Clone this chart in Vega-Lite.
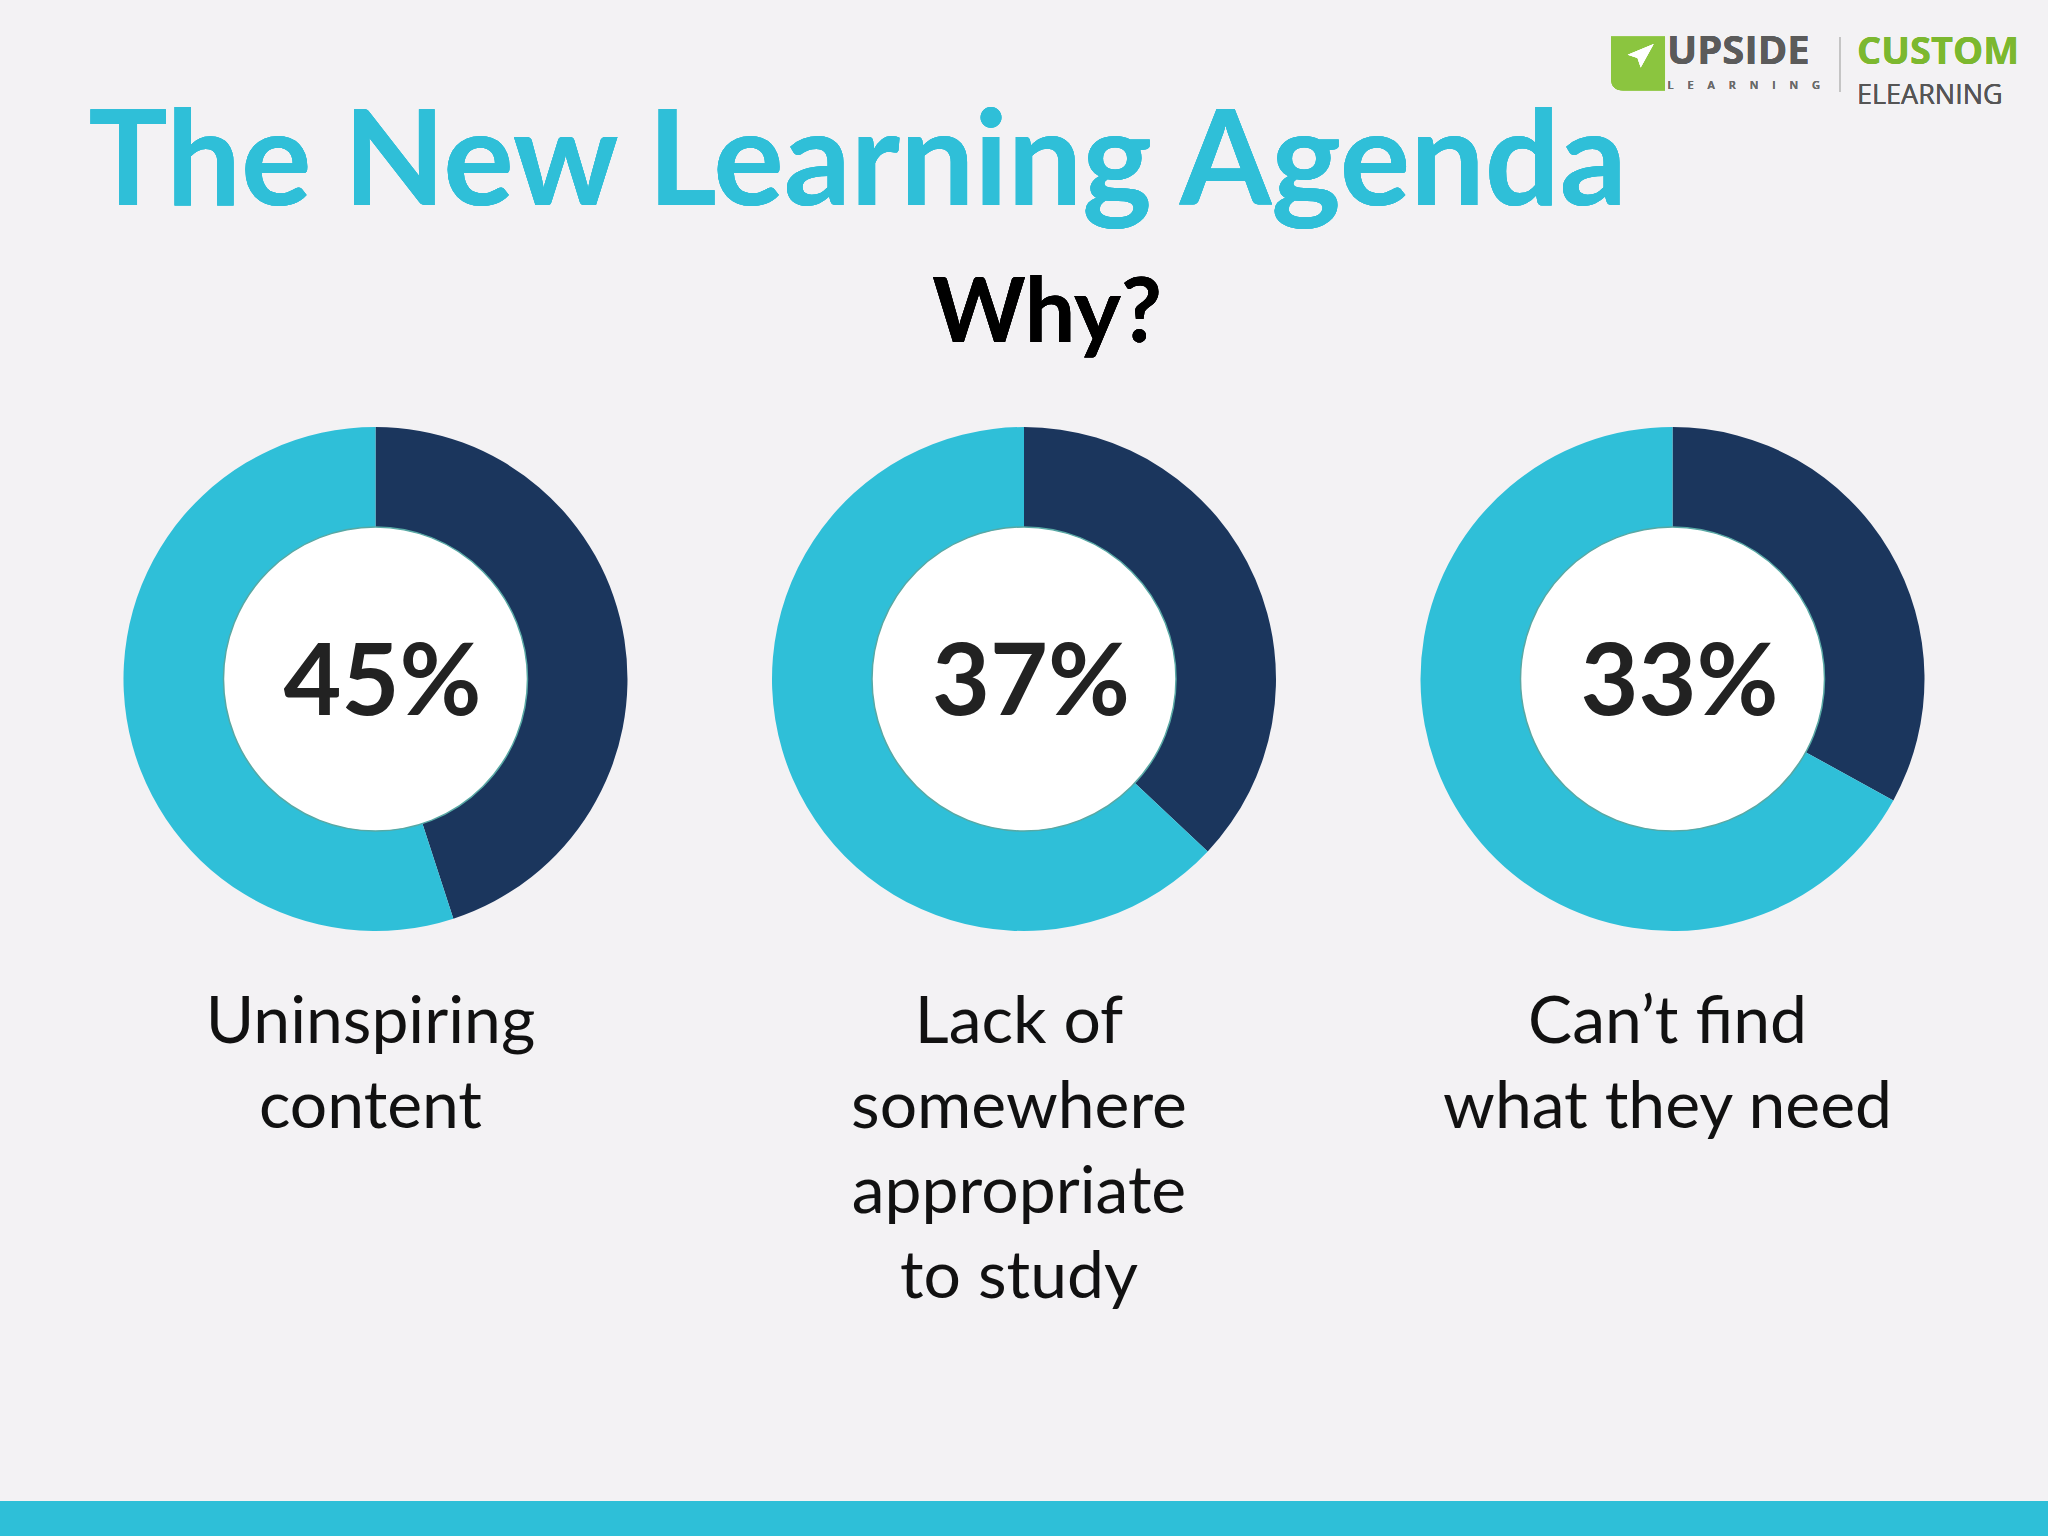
{
  "$schema": "https://vega.github.io/schema/vega-lite/v6.json",
  "autosize": {"type": "fit", "contains": "padding"},
  "width": 2048,
  "height": 1536,
  "padding": {"left": 0, "right": 0, "top": 0, "bottom": 35},
  "background": "#2ebfd8",
  "config": {"view": {"stroke": null, "fill": "#f3f2f4"}},
  "data": {"values": [
    {"reason": "Uninspiring content", "share": 0.45, "rest": 0.55, "lines": ["Uninspiring", "content"]},
    {"reason": "Lack of somewhere appropriate to study", "share": 0.37, "rest": 0.63, "lines": ["Lack of", "somewhere", "appropriate", "to study"]},
    {"reason": "Can’t find what they need", "share": 0.33, "rest": 0.67, "lines": ["Can’t find", "what they need"]}
  ]},
  "encoding": {
    "x": {"field": "reason", "type": "nominal", "axis": null,
      "scale": {"type": "point", "padding": 0.579, "domain": ["Uninspiring content", "Lack of somewhere appropriate to study", "Can’t find what they need"]}}
  },
  "layer": [
    {
      "transform": [
        {"fold": ["share", "rest"], "as": ["segment", "value"]},
        {"stack": "value", "groupby": ["reason"], "sort": [{"field": "segment", "order": "descending"}], "as": ["t0", "t1"]}
      ],
      "mark": {"type": "arc", "outerRadius": 252, "innerRadius": 140, "yOffset": -71.5},
      "encoding": {
        "theta": {"field": "t0", "type": "quantitative", "scale": {"domain": [0, 1]}},
        "theta2": {"field": "t1"},
        "color": {"field": "segment", "type": "nominal", "legend": null,
          "scale": {"domain": ["share", "rest"], "range": ["#1b365d", "#2fbfd8"]}}
      }
    },
    {
      "mark": {"type": "point", "shape": "circle", "filled": true, "fill": "#ffffff", "opacity": 1, "size": 92416, "stroke": "#58a8a4", "strokeWidth": 1.5, "yOffset": -71.5}
    },
    {
      "mark": {"type": "text", "font": "Lato", "fontWeight": "bold", "fontSize": 100, "color": "#222222", "baseline": "alphabetic", "align": "center", "dy": -35.5, "dx": 7},
      "encoding": {"text": {"field": "share", "type": "quantitative", "format": ".0%"}}
    },
    {
      "mark": {"type": "text", "font": "Lato", "fontSize": 66, "color": "#111111", "baseline": "alphabetic", "align": "center", "dy": 292.5, "dx": -5, "lineHeight": 85},
      "encoding": {"text": {"field": "lines"}}
    },
    {
      "mark": {"type": "text", "font": "Lato", "fontWeight": "bold", "fontSize": 132, "color": "#2fbfd8", "baseline": "alphabetic", "align": "left", "dx": -287, "dy": -545.5, "text": "The New Learning Agenda"},
      "encoding": {"x": {"datum": "Uninspiring content", "type": "nominal"}}
    },
    {
      "mark": {"type": "text", "font": "Lato", "fontWeight": "bold", "fontSize": 89, "color": "#000000", "baseline": "alphabetic", "align": "center", "dx": 23, "dy": -408.5, "text": "Why?"},
      "encoding": {"x": {"datum": "Lack of somewhere appropriate to study", "type": "nominal"}}
    },
    {
      "mark": {"type": "point", "filled": true, "fill": "#8bc53f", "opacity": 1, "strokeWidth": 0, "size": 2916, "xOffset": -34.5, "yOffset": -687,
        "shape": "M -1 -1 L 1 -1 L 1 1 L -0.55 1 Q -1 1 -1 0.55 Z"},
      "encoding": {"x": {"datum": "Can’t find what they need", "type": "nominal"}}
    },
    {
      "mark": {"type": "point", "filled": true, "fill": "#ffffff", "opacity": 1, "strokeWidth": 0, "size": 2916, "xOffset": -34.5, "yOffset": -687,
        "shape": "M 0.58 -0.72 L -0.38 -0.32 L -0.02 -0.2 L 0.1 0.15 Z"},
      "encoding": {"x": {"datum": "Can’t find what they need", "type": "nominal"}}
    },
    {
      "mark": {"type": "point", "filled": false, "stroke": "#c4c4c4", "opacity": 1, "strokeWidth": 1.5, "size": 3025, "xOffset": 167.5, "yOffset": -686,
        "shape": "M 0 -1 L 0 1"},
      "encoding": {"x": {"datum": "Can’t find what they need", "type": "nominal"}}
    },
    {
      "mark": {"type": "text", "font": "Open Sans", "fontWeight": "bold", "fontSize": 40, "color": "#5b5b5b", "baseline": "alphabetic", "align": "left", "dx": -5.5, "dy": -687, "text": "UPSIDE"},
      "encoding": {"x": {"datum": "Can’t find what they need", "type": "nominal"}}
    },
    {
      "mark": {"type": "text", "font": "Open Sans", "fontWeight": 600, "fontSize": 11, "color": "#6a6a6a", "baseline": "alphabetic", "align": "left", "dx": -5, "dy": -661.5, "text": "L\u2002\u2002\u2009\u200aE\u2002\u2002\u2009\u200aA\u2002\u2002\u2009\u200aR\u2002\u2002\u2009\u200aN\u2002\u2002\u2009\u200aI\u2002\u2002\u2009\u200aN\u2002\u2002\u2009\u200aG"},
      "encoding": {"x": {"datum": "Can’t find what they need", "type": "nominal"}}
    },
    {
      "mark": {"type": "text", "font": "Open Sans", "fontWeight": "bold", "fontSize": 38, "color": "#7cb82f", "baseline": "alphabetic", "align": "left", "dx": 184.5, "dy": -687, "text": "CUSTOM"},
      "encoding": {"x": {"datum": "Can’t find what they need", "type": "nominal"}}
    },
    {
      "mark": {"type": "text", "font": "Open Sans", "fontSize": 27, "color": "#555555", "baseline": "alphabetic", "align": "left", "dx": 184.5, "dy": -647, "text": "ELEARNING"},
      "encoding": {"x": {"datum": "Can’t find what they need", "type": "nominal"}}
    }
  ]
}
